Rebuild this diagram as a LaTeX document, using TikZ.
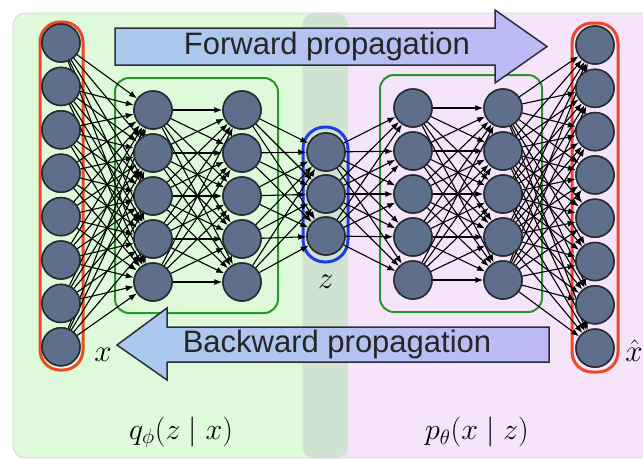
\documentclass[tikz,border=0pt]{standalone}
\usepackage[no-math]{fontspec}
\usepackage{graphicx}
\newfontfamily\arrowfont{Liberation Sans}
\usetikzlibrary{arrows.meta}
\definecolor{nodefill}{RGB}{94,111,140}
\definecolor{nodeedge}{RGB}{38,42,48}
\definecolor{panelgreen}{RGB}{222,250,218}
\definecolor{panelpink}{RGB}{246,228,250}
\definecolor{paneloverlap}{RGB}{208,226,208}
\definecolor{panelborder}{RGB}{215,215,215}
\definecolor{layerred}{RGB}{238,72,38}
\definecolor{layergreen}{RGB}{40,150,40}
\definecolor{layerblue}{RGB}{30,60,230}
\definecolor{arrowleft}{RGB}{168,202,236}
\definecolor{arrowright}{RGB}{190,186,246}
\definecolor{arrowedge}{RGB}{45,45,60}
\tikzset{
  neuron/.style={circle, minimum size=38pt, inner sep=0pt, fill=nodefill, draw=nodeedge, line width=1.5pt},
  conn/.style={-{Latex[length=8pt,width=6pt]}, line width=1.1pt, black},
  layerbox/.style={rounded corners=20pt, line width=3pt},
  hiddenbox/.style={rounded corners=14pt, line width=2pt, draw=layergreen},
  bigarrow/.style={left color=arrowleft, right color=arrowright, draw=arrowedge, line width=1.5pt},
  arrowtext/.style={font=\arrowfont\fontsize{31}{33}\selectfont, text=black!85},
  mathlabel/.style={font=\huge, inner sep=0pt},
  panel/.style={rounded corners=12pt, draw=panelborder, line width=0.8pt}
}
\begin{document}
\begin{tikzpicture}[x=1pt,y=-1pt]
\useasboundingbox (0,0) rectangle (643,459);
\fill[white] (0,0) rectangle (643,459);
% panels
\path[panel, fill=panelgreen] (13,13) rectangle (348,458);
\path[panel, fill=panelpink] (303,13) rectangle (680,458);
\begin{scope}
  \clip[rounded corners=12pt] (13,13) rectangle (348,458);
  \fill[paneloverlap, rounded corners=12pt] (303,13) rectangle (680,458);
\end{scope}
% layer boxes
\draw[layerbox, draw=layerred] (40,22) rectangle (83,370);
\draw[layerbox, draw=layerred] (572,23) rectangle (618,372);
\draw[hiddenbox] (115,78) rectangle (278,313);
\draw[hiddenbox] (380,75) rectangle (542,312);
\draw[layerbox, rounded corners=22pt, draw=layerblue] (303,127) rectangle (348,262);
% nodes
\foreach \i in {1,...,8} {
  \node[neuron] (in\i) at (61,{43+43.4*(\i-1)}) {};
  \node[neuron] (out\i) at (595,{45+43.3*(\i-1)}) {};
}
\foreach \i in {1,...,5} {
  \node[neuron] (ea\i) at (153,{110+43*(\i-1)}) {};
  \node[neuron] (eb\i) at (242,{110+43*(\i-1)}) {};
  \node[neuron] (da\i) at (413,{108+43*(\i-1)}) {};
  \node[neuron] (db\i) at (503,{108+43*(\i-1)}) {};
}
\foreach \i in {1,2,3} {
  \node[neuron] (z\i) at (326,{152+42*(\i-1)}) {};
}
% connections
\foreach \i in {1,...,8} \foreach \j in {1,...,5} \draw[conn] (in\i) -- (ea\j);
\foreach \i in {1,...,5} \foreach \j in {1,...,5} \draw[conn] (ea\i) -- (eb\j);
\foreach \i in {1,...,5} \foreach \j in {1,2,3} \draw[conn] (eb\i) -- (z\j);
\foreach \i in {1,2,3} \foreach \j in {1,...,5} \draw[conn] (z\i) -- (da\j);
\foreach \i in {1,...,5} \foreach \j in {1,...,5} \draw[conn] (da\i) -- (db\j);
\foreach \i in {1,...,5} \foreach \j in {1,...,8} \draw[conn] (db\i) -- (out\j);
% redraw nodes on top
\foreach \i in {1,...,8} {
  \node[neuron] at (in\i) {};
  \node[neuron] at (out\i) {};
}
\foreach \i in {1,...,5} {
  \node[neuron] at (ea\i) {};
  \node[neuron] at (eb\i) {};
  \node[neuron] at (da\i) {};
  \node[neuron] at (db\i) {};
}
\foreach \i in {1,2,3} \node[neuron] at (z\i) {};
% big arrows
\path[bigarrow] (115,28) -- (495,28) -- (495,10) -- (547,46.5) -- (495,83) -- (495,65) -- (115,65) -- cycle;
\node[arrowtext] (fwd) at (327,46.5) {Forward propagation};
\path[bigarrow] (117,345) -- (167,308) -- (167,327) -- (549,327) -- (549,362) -- (167,362) -- (167,380) -- cycle;
\node[arrowtext] (bwd) at (337,344.5) {Backward propagation};
% labels
\node[mathlabel] (xlab) at (103,355) {\scalebox{1.5}{$x$}};
\node[mathlabel] (zlab) at (326,282) {\scalebox{1.5}{$z$}};
\node[mathlabel] (xhat) at (634,351) {\scalebox{1.5}{$\hat{x}$}};
\node[mathlabel] (qlab) at (181,432) {\scalebox{1.45}{$q_\phi(z\;|\;x)$}};
\node[mathlabel] (plab) at (477,432) {\scalebox{1.45}{$p_\theta(x\;|\;z)$}};
\end{tikzpicture}
\end{document}
